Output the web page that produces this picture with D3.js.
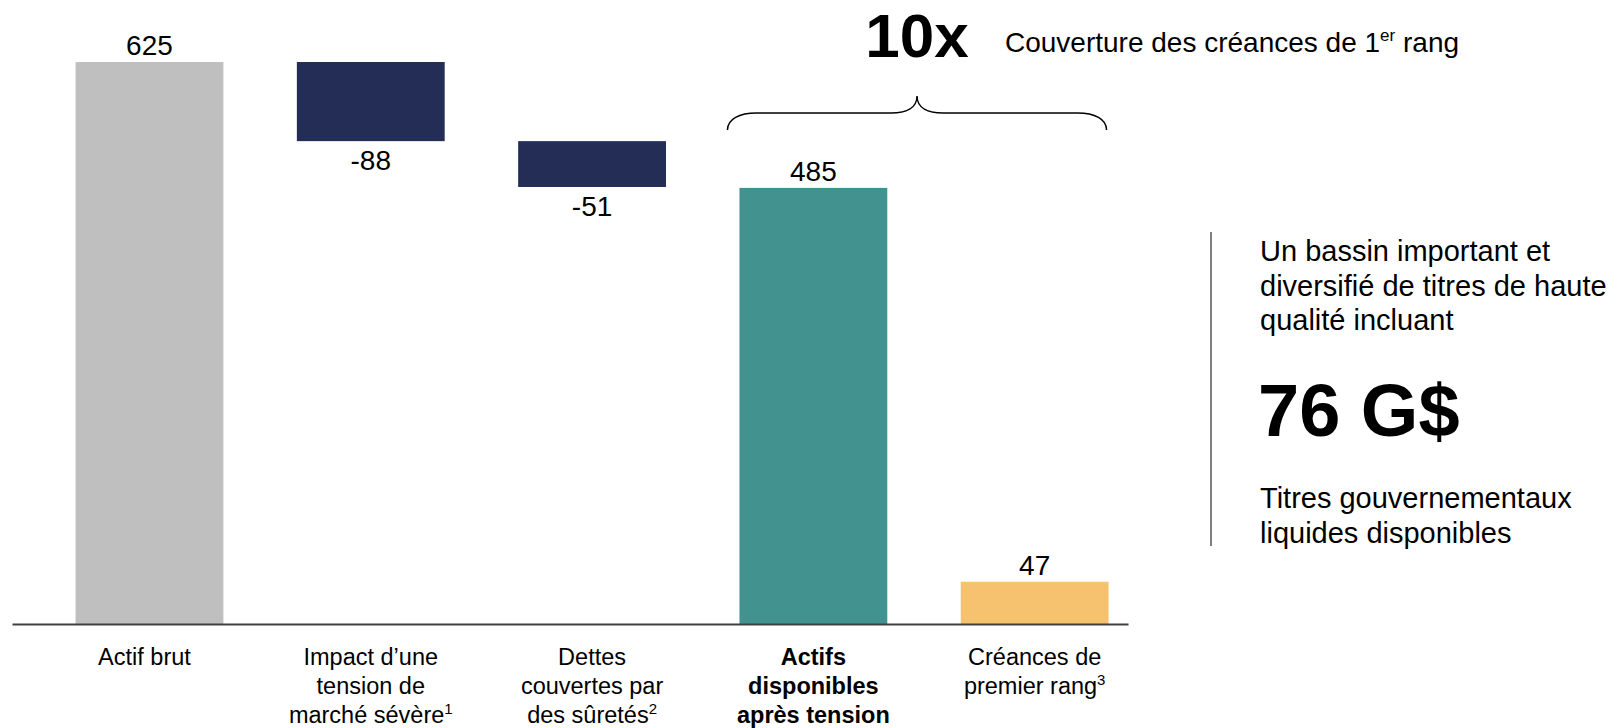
<!DOCTYPE html>
<html>
<head>
<meta charset="utf-8">
<script src="https://cdn.jsdelivr.net/npm/d3@7"></script>
<style>
  body { margin: 0; background: #fff; }
  svg { display: block; font-family: "Liberation Sans", Arial, sans-serif; }
</style>
</head>
<body>
<svg class="target" width="1623" height="728"></svg>
<script>
// data
const categories = ["Actif brut", "Impact d’une tension de marché sévère", "Dettes couvertes par des sûretés", "Actifs disponibles après tension", "Créances de premier rang"];
const labelLines = [
  ["Actif brut"],
  ["Impact d’une", "tension de", "marché sévère"],
  ["Dettes", "couvertes par", "des sûretés"],
  ["Actifs", "disponibles", "après tension"],
  ["Créances de", "premier rang"],
];
const footnotes = ["", "1", "2", "", "3"];
const values = [625, -88, -51, 485, 47];
const barTypes = ["total", "delta", "delta", "total", "total"];
const valueLabels = ["625", "-88", "-51", "485", "47"];

const coverageMultiple = "10x";
const coverageText = ["Couverture des créances de 1", "er", " rang"];
const sideIntro = ["Un bassin important et", "diversifié de titres de haute", "qualité incluant"];
const sideFigure = "76 G$";
const sideOutro = ["Titres gouvernementaux", "liquides disponibles"];

const svg = d3.select(".target");
const baseY = 624;
const topY = 62;

// waterfall start/end for each bar
let running = 0;
const bars = values.map((v, i) => {
  let y0, y1;
  if (barTypes[i] === "total") {
    y0 = 0;
    y1 = v;
    running = v;
  } else {
    y0 = running;
    y1 = running + v;
    running += v;
  }
  return { name: categories[i], value: v, y0, y1, type: barTypes[i], label: valueLabels[i], i };
});

const yScale = d3
  .scaleLinear()
  .domain([0, d3.max(bars, (d) => Math.max(d.y0, d.y1))])
  .range([baseY, topY]);

const xScale = d3
  .scaleBand()
  .domain(categories)
  .range([12, 1128])
  .paddingInner(0.332)
  .paddingOuter(0.1875)
  .align(0.766);

const colorScale = d3
  .scaleOrdinal()
  .domain(categories)
  .range(["#bfbfbf", "#232d56", "#232d56", "#429290", "#f6c26f"]);

svg
  .selectAll(".bar")
  .data(bars)
  .enter()
  .append("rect")
  .classed("bar", true)
  .attr("x", (d) => xScale(d.name))
  .attr("y", (d) => yScale(Math.max(d.y0, d.y1)))
  .attr("height", (d) => Math.abs(yScale(d.y0) - yScale(d.y1)))
  .attr("width", xScale.bandwidth())
  .style("fill", (d) => colorScale(d.name));

// axis line only
const axis = svg
  .append("g")
  .attr("transform", `translate(0, ${baseY})`)
  .call(d3.axisBottom(xScale).tickSize(0).tickSizeOuter(0).tickFormat(""));
axis.select(".domain").attr("stroke", "#404040").attr("stroke-width", 2);

// value labels
svg
  .selectAll(".value")
  .data(bars)
  .enter()
  .append("text")
  .attr("class", "value")
  .attr("x", (d) => xScale(d.name) + xScale.bandwidth() / 2)
  .attr("y", (d) =>
    d.type === "total" ? yScale(d.y1) - 7 : yScale(Math.min(d.y0, d.y1)) + 29
  )
  .attr("text-anchor", "middle")
  .attr("font-size", 28)
  .attr("fill", "#000")
  .text((d) => d.label);

// category labels
const catLabels = svg
  .selectAll(".cat")
  .data(bars)
  .enter()
  .append("text")
  .attr("class", "cat")
  .attr("text-anchor", "middle")
  .attr("font-size", 23.5)
  .attr("font-weight", (d) => (d.i === 3 ? "bold" : "normal"))
  .attr("fill", "#000");

catLabels.each(function (d) {
  const t = d3.select(this);
  const cx = xScale(d.name) + xScale.bandwidth() / 2 - (d.i === 0 ? 5 : 0);
  labelLines[d.i].forEach((line, k) => {
    t.append("tspan")
      .attr("x", cx)
      .attr("y", baseY + 41 + k * 29)
      .text(line);
    if (k === labelLines[d.i].length - 1 && footnotes[d.i]) {
      t.append("tspan").attr("dy", -9).attr("font-size", 15).text(footnotes[d.i]);
    }
  });
});

// brace over the last two bars
const bL = xScale(categories[3]) - 12;
const bR = xScale(categories[4]) + xScale.bandwidth() - 2;
const bM = (bL + bR) / 2;
const yEnd = 130, yMid = 113, yTip = 96;
svg
  .append("path")
  .attr(
    "d",
    `M${bL},${yEnd} C${bL},${yMid + 6} ${bL + 12},${yMid} ${bL + 29},${yMid} ` +
      `H${bM - 26} C${bM - 11},${yMid} ${bM},${yMid - 5} ${bM},${yTip} ` +
      `C${bM},${yMid - 5} ${bM + 11},${yMid} ${bM + 26},${yMid} ` +
      `H${bR - 29} C${bR - 12},${yMid} ${bR},${yMid + 6} ${bR},${yEnd}`
  )
  .attr("fill", "none")
  .attr("stroke", "#000")
  .attr("stroke-width", 1.5);

svg
  .append("text")
  .attr("x", bM)
  .attr("y", 57)
  .attr("text-anchor", "middle")
  .attr("font-size", 62)
  .attr("font-weight", "bold")
  .text(coverageMultiple);

const cov = svg.append("text").attr("x", 1005).attr("y", 52).attr("font-size", 28);
cov.append("tspan").text(coverageText[0]);
cov.append("tspan").attr("dy", -11).attr("font-size", 17).text(coverageText[1]);
cov.append("tspan").attr("dy", 11).text(coverageText[2]);

// right side note
svg
  .append("line")
  .attr("x1", 1211)
  .attr("x2", 1211)
  .attr("y1", 232)
  .attr("y2", 546)
  .attr("stroke", "#555")
  .attr("stroke-width", 1.5);

const side = svg.append("g").attr("font-size", 29).attr("fill", "#000");
sideIntro.forEach((line, k) => {
  side.append("text").attr("x", 1260).attr("y", 261 + k * 34.6).text(line);
});
side
  .append("text")
  .attr("x", 1258)
  .attr("y", 436)
  .attr("font-size", 74)
  .attr("font-weight", "bold")
  .text(sideFigure);
sideOutro.forEach((line, k) => {
  side.append("text").attr("x", 1260).attr("y", 508 + k * 35).text(line);
});
</script>
</body>
</html>
